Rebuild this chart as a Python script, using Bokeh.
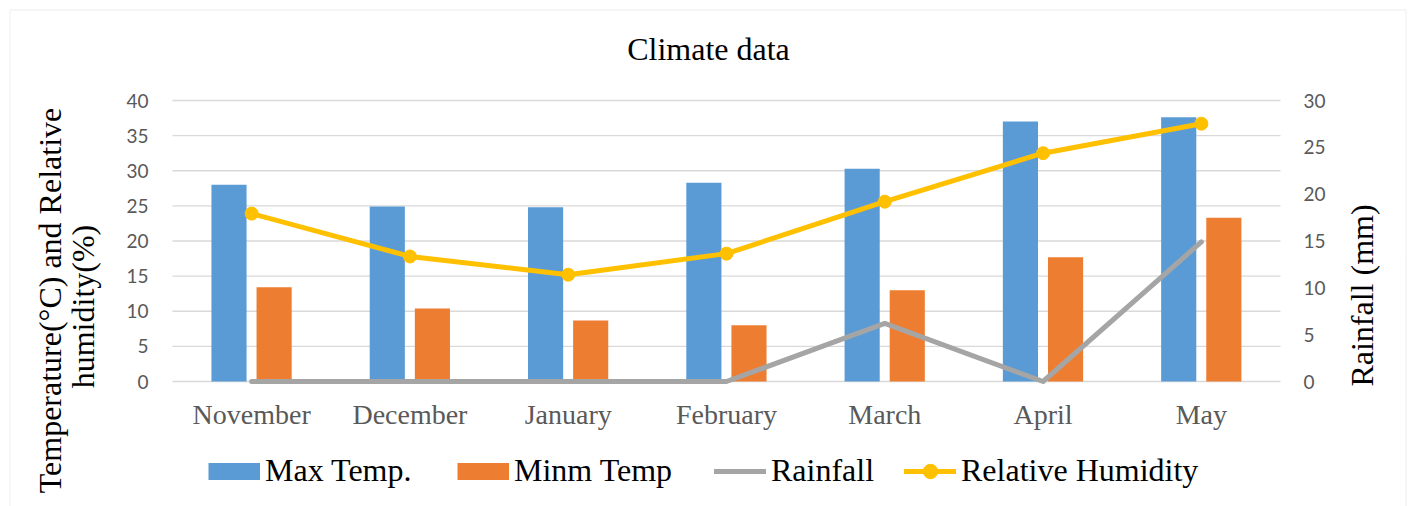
from math import pi
import numpy as np
from bokeh.plotting import figure
from bokeh.models import (Range1d, LinearAxis, FixedTicker, Label,
                          Legend, LegendItem, BoxAnnotation, ColumnDataSource)
from bokeh.embed import file_html
from bokeh.resources import INLINE

# ---- data ----
months = ["November", "December", "January", "February", "March", "April", "May"]
max_temp = [28.0, 24.9, 24.8, 28.3, 30.3, 37.0, 37.6]
min_temp = [13.4, 10.4, 8.7, 8.0, 13.0, 17.7, 23.3]
rainfall = [0, 0, 0, 0, 6.2, 0, 14.9]
humidity = [23.9, 17.8, 15.2, 18.2, 25.6, 32.5, 36.7]
left_ticks = [0, 5, 10, 15, 20, 25, 30, 35, 40]
right_ticks = [0, 5, 10, 15, 20, 25, 30]

BLUE = "#5B9BD5"
ORANGE = "#ED7D31"
GRAY = "#A5A5A5"
YELLOW = "#FFC000"
SERIF = "Liberation Serif"
SANS = "Lato"

W, H = 1411, 506
FL, FR, FT, FB = 172, 1280, 100, 381  # plot-area edges in canvas px

n = len(months)
pos = list(range(n))
src = ColumnDataSource(dict(x=pos, max_t=max_temp, min_t=min_temp,
                            rain=rainfall, hum=humidity))

# ranges chosen so that the plot area (categories, 0..40, 0..30) sits at FL..FR, FB..FT
xs = (FR - FL) / n
x_start = -0.5 - FL / xs
x_end = n - 0.5 + (W - FR) / xs
ys = (FB - FT) / left_ticks[-1]
y_start = -(H - FB) / ys
y_end = left_ticks[-1] + FT / ys
rs = (FB - FT) / right_ticks[-1]
r_start = -(H - FB) / rs
r_end = right_ticks[-1] + FT / rs

p = figure(width=W, height=H, title=None,
           x_range=Range1d(x_start, x_end), y_range=Range1d(y_start, y_end),
           output_backend="svg", toolbar_location=None,
           min_border=0, min_border_left=0, min_border_right=0,
           min_border_top=0, min_border_bottom=0)
p.extra_y_ranges = {"rain": Range1d(r_start, r_end)}
p.outline_line_color = None
p.background_fill_color = "white"
p.border_fill_color = "white"
p.grid.grid_line_color = None

# axes (fixed at the plot-area edges)
p.yaxis.fixed_location = -0.5
p.yaxis.ticker = FixedTicker(ticks=left_ticks)
p.yaxis.axis_line_color = None
p.yaxis.major_tick_line_color = None
p.yaxis.minor_tick_line_color = None
p.yaxis.major_tick_out = 0
p.yaxis.major_tick_in = 0
p.yaxis.major_label_standoff = 24
p.yaxis.major_label_text_font = SANS
p.yaxis.major_label_text_font_size = "19px"
p.yaxis.major_label_text_color = "#595959"

p.xaxis.fixed_location = 0
p.xaxis.ticker = FixedTicker(ticks=pos)
p.xaxis.major_label_overrides = {i: m for i, m in zip(pos, months)}
p.xaxis.axis_line_color = None
p.xaxis.major_tick_line_color = None
p.xaxis.minor_tick_line_color = None
p.xaxis.major_tick_out = 0
p.xaxis.major_tick_in = 0
p.xaxis.major_label_standoff = 17
p.xaxis.major_label_text_font = SERIF
p.xaxis.major_label_text_font_size = "28px"
p.xaxis.major_label_text_color = "#595959"

ra = LinearAxis(y_range_name="rain", ticker=FixedTicker(ticks=right_ticks),
                fixed_location=n - 0.5)
ra.axis_line_color = None
ra.major_tick_line_color = None
ra.minor_tick_line_color = None
ra.major_tick_out = 0
ra.major_tick_in = 0
ra.major_label_standoff = 23
ra.major_label_text_font = SANS
ra.major_label_text_font_size = "19px"
ra.major_label_text_color = "#595959"
p.add_layout(ra, "right")

# horizontal gridlines across the plot area
p.segment(x0=[-0.5] * len(left_ticks), x1=[n - 0.5] * len(left_ticks),
          y0=left_ticks, y1=left_ticks, line_color="#D9D9D9", line_width=1.3)

# bars
p.vbar(x=[v - 0.143 for v in pos], top=max_temp, width=0.222,
       fill_color=BLUE, line_color=None)
p.vbar(x=[v + 0.142 for v in pos], top=min_temp, width=0.222,
       fill_color=ORANGE, line_color=None)

# lines
r_rain = p.line(x="x", y="rain", source=src, y_range_name="rain",
                line_color=GRAY, line_width=5, line_cap="round", line_join="round")
r_hum = p.line(x="x", y="hum", source=src, line_color=YELLOW, line_width=5,
               line_cap="round", line_join="round")
r_hum_pts = p.scatter(x="x", y="hum", source=src, size=13, marker="circle",
                      fill_color=YELLOW, line_color=YELLOW)

# legend swatches for the bar series (invisible in the plot itself)
d_max = p.line(x=[np.nan], y=[np.nan], line_color=BLUE, line_width=17, line_cap="butt")
d_min = p.line(x=[np.nan], y=[np.nan], line_color=ORANGE, line_width=17, line_cap="butt")

legend_entries = [("Max Temp.", [d_max], 208),
                  ("Minm Temp", [d_min], 457),
                  ("Rainfall", [r_rain], 714),
                  ("Relative Humidity", [r_hum, r_hum_pts], 904)]
for text, rends, lx in legend_entries:
    lg = Legend(items=[LegendItem(label=text, renderers=rends)],
                orientation="horizontal", location=(lx, H - 489),
                glyph_width=52, glyph_height=36, label_height=36, label_standoff=5,
                padding=0, margin=0, border_line_color=None, background_fill_alpha=0,
                label_text_font=SERIF, label_text_font_size="32px",
                label_text_color="black")
    p.add_layout(lg, "center")

# titles
def lab(text, cx, cy, angle=0, size="32px"):
    p.add_layout(Label(x=cx, y=H - cy, x_units="screen", y_units="screen",
                       text=text, angle=angle, text_align="center",
                       text_baseline="middle", text_font=SERIF,
                       text_font_size=size, text_color="black"))

lab("Climate data", 708, 48)
lab("Temperature(°C) and Relative", 49, 300, angle=pi / 2)
lab("humidity(%)", 82, 306, angle=pi / 2)
lab("Rainfall (mm)", 1361, 295, angle=pi / 2)

# outer chart border
p.add_layout(BoxAnnotation(left=9.5, right=1405.5, top=H - 9.5, bottom=-30,
                           left_units="screen", right_units="screen",
                           top_units="screen", bottom_units="screen",
                           fill_alpha=0, line_color="#D9D9D9", line_width=1.5))

open("out.html", "w").write(file_html(p, INLINE))
